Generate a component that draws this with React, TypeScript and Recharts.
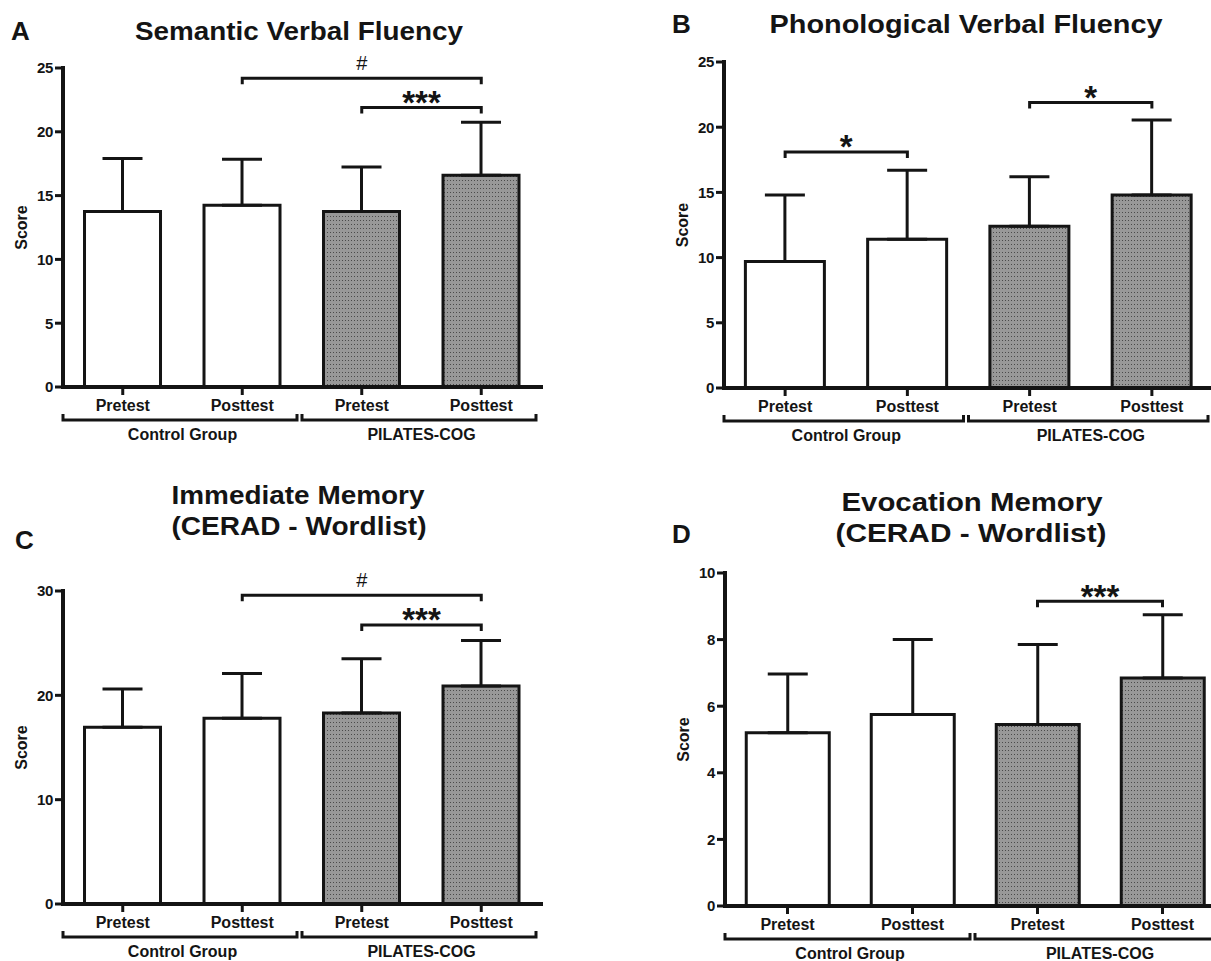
import React from "react";
import {
  ComposedChart,
  Bar,
  Cell,
  ErrorBar,
  XAxis,
  YAxis,
  ReferenceLine,
} from "recharts";

const FONT = "'Liberation Sans', Arial, sans-serif";
const INK = "#141414";
const Y_W = 50;

// shared categories
const categoryKeys = ["ctrlPre", "ctrlPost", "pilPre", "pilPost"];
const categoryLabels = ["Pretest", "Posttest", "Pretest", "Posttest"];
const groupLabels = ["Control Group", "PILATES-COG"];

// A - semantic verbal fluency
const semanticMean = [13.75, 14.25, 13.75, 16.6];
const semanticSd = [4.15, 3.6, 3.5, 4.15];
const semanticTicks = [0, 5, 10, 15, 20, 25];
const semanticSig = [
  { from: "ctrlPost", to: "pilPost", y: 24.2, mark: "#" },
  { from: "pilPre", to: "pilPost", y: 21.9, mark: "***" },
];

// B - phonological verbal fluency
const phonoMean = [9.7, 11.4, 12.4, 14.8];
const phonoSd = [5.1, 5.3, 3.8, 5.75];
const phonoTicks = [0, 5, 10, 15, 20, 25];
const phonoSig = [
  { from: "ctrlPre", to: "ctrlPost", y: 18.1, mark: "*" },
  { from: "pilPre", to: "pilPost", y: 21.9, mark: "*" },
];

// C - immediate memory
const immediateMean = [16.95, 17.8, 18.3, 20.9];
const immediateSd = [3.65, 4.3, 5.2, 4.35];
const immediateTicks = [0, 10, 20, 30];
const immediateSig = [
  { from: "ctrlPost", to: "pilPost", y: 29.6, mark: "#" },
  { from: "pilPre", to: "pilPost", y: 26.75, mark: "***" },
];

// D - evocation memory
const evocationMean = [5.2, 5.75, 5.45, 6.85];
const evocationSd = [1.77, 2.25, 2.4, 1.9];
const evocationTicks = [0, 2, 4, 6, 8, 10];
const evocationSig = [{ from: "pilPre", to: "pilPost", y: 9.15, mark: "***" }];

type Sig = { from: string; to: string; y: number; mark: string };

function ValueTick(props: any) {
  const { x, y, payload } = props;
  return (
    <text
      x={x}
      y={y}
      dy={5.4}
      textAnchor="end"
      fontFamily={FONT}
      fontWeight="bold"
      fontSize={15}
      letterSpacing={-0.4}
      fill={INK}
    >
      {payload.value}
    </text>
  );
}

function GroupTick(props: any) {
  const { x, y, index, halfBand } = props;
  const first = index % 2 === 0;
  return (
    <g>
      <text
        x={x}
        y={y + 14}
        textAnchor="middle"
        fontFamily={FONT}
        fontWeight="bold"
        fontSize={16}
        fill={INK}
      >
        {categoryLabels[index]}
      </text>
      {first && (
        <g>
          <path
            d={`M${x - halfBand},${y + 17}V${y + 23}H${x + 3 * halfBand - 5}V${y + 17}`}
            fill="none"
            stroke={INK}
            strokeWidth={3}
          />
          <text
            x={x + halfBand}
            y={y + 43}
            textAnchor="middle"
            fontFamily={FONT}
            fontWeight="bold"
            fontSize={16}
            fill={INK}
          >
            {groupLabels[index / 2]}
          </text>
        </g>
      )}
    </g>
  );
}

function Bracket(props: any) {
  const { x1, y1, x2, mark } = props;
  const hash = mark === "#";
  return (
    <g>
      <path
        d={`M${x1},${y1 + 6}V${y1}H${x2}V${y1 + 6}`}
        fill="none"
        stroke={INK}
        strokeWidth={3}
      />
      <text
        x={(x1 + x2) / 2}
        y={hash ? y1 - 8 : y1 + 6.5}
        textAnchor="middle"
        fontFamily={FONT}
        fontWeight={hash ? "normal" : "bold"}
        fontSize={hash ? 20 : 33}
        fill={INK}
      >
        {mark}
      </text>
    </g>
  );
}

function ScoreLabel(props: any) {
  const vb = props.viewBox || {};
  const bx = vb.x + vb.width - 36;
  const cy = vb.y + vb.height / 2;
  return (
    <text
      x={bx}
      y={cy}
      transform={`rotate(-90 ${bx} ${cy})`}
      textAnchor="middle"
      fontFamily={FONT}
      fontWeight="bold"
      fontSize={16}
      fill={INK}
    >
      Score
    </text>
  );
}

type PanelProps = {
  left: number;
  top: number;
  width: number;
  height: number;
  margin: { top: number; right: number; bottom: number; left: number };
  gap: string;
  means: number[];
  sds: number[];
  ticks: number[];
  sig: Sig[];
};

function Panel(p: PanelProps) {
  const data = categoryKeys.map((key, i) => ({
    key,
    mean: p.means[i],
    err: [0, p.sds[i]],
  }));
  const plotWidth = p.width - p.margin.left - p.margin.right - Y_W;
  const halfBand = plotWidth / categoryKeys.length / 2;
  return (
    <div style={{ position: "absolute", left: p.left, top: p.top }}>
      <ComposedChart
        width={p.width}
        height={p.height}
        data={data}
        margin={p.margin}
        barCategoryGap={p.gap}
      >
        <XAxis
          dataKey="key"
          height={50}
          interval={0}
          tickSize={8}
          axisLine={{ stroke: INK, strokeWidth: 4, strokeLinecap: "square" }}
          tickLine={{ stroke: INK, strokeWidth: 3 }}
          tick={(t: any) => <GroupTick {...t} halfBand={halfBand} />}
        />
        <YAxis
          type="number"
          width={Y_W}
          domain={[p.ticks[0], p.ticks[p.ticks.length - 1]]}
          ticks={p.ticks}
          interval={0}
          tickSize={8}
          axisLine={{ stroke: INK, strokeWidth: 4, strokeLinecap: "square" }}
          tickLine={{ stroke: INK, strokeWidth: 3 }}
          tick={(t: any) => <ValueTick {...t} />}
          label={(l: any) => <ScoreLabel {...l} />}
        />
        <Bar dataKey="mean" isAnimationActive={false} stroke={INK} strokeWidth={3}>
          {data.map((d, i) => (
            <Cell key={d.key} fill={i < 2 ? "#ffffff" : "url(#dotFill)"} />
          ))}
          <ErrorBar
            dataKey="err"
            width={20}
            stroke={INK}
            strokeWidth={3}
            isAnimationActive={false}
          />
        </Bar>
        {p.sig.map((s, i) => (
          <ReferenceLine
            key={i}
            segment={[
              { x: s.from, y: s.y },
              { x: s.to, y: s.y },
            ]}
            ifOverflow="visible"
            shape={(r: any) => <Bracket {...r} mark={s.mark} />}
          />
        ))}
      </ComposedChart>
    </div>
  );
}

function Title(props: any) {
  const { x, y, len, children } = props;
  return (
    <text
      x={x}
      y={y}
      textAnchor="middle"
      fontFamily={FONT}
      fontWeight="bold"
      fontSize={25}
      fill={INK}
      textLength={len}
      lengthAdjust="spacingAndGlyphs"
    >
      {children}
    </text>
  );
}

function Letter(props: any) {
  return (
    <text
      x={props.x}
      y={props.y}
      fontFamily={FONT}
      fontWeight="bold"
      fontSize={26}
      fill={INK}
    >
      {props.children}
    </text>
  );
}

export default function App() {
  return (
    <div
      style={{
        position: "absolute",
        left: 0,
        top: 0,
        width: 1211,
        height: 961,
        overflow: "hidden",
        background: "#fff",
      }}
    >
      <svg
        width={1211}
        height={961}
        style={{ position: "absolute", left: 0, top: 0, pointerEvents: "none" }}
      >
        <defs>
          <pattern id="dotFill" width={3} height={4} patternUnits="userSpaceOnUse">
            <rect width={3} height={4} fill="#989898" />
            <rect width={1} height={1} fill="#4a4a4a" />
          </pattern>
        </defs>
        <Letter x={11} y={40}>A</Letter>
        <Title x={299} y={40} len={328}>Semantic Verbal Fluency</Title>
        <Letter x={672} y={33}>B</Letter>
        <Title x={966} y={33} len={393}>Phonological Verbal Fluency</Title>
        <Letter x={15} y={549}>C</Letter>
        <Title x={298} y={504} len={253}>Immediate Memory</Title>
        <Title x={299} y={535} len={255}>(CERAD - Wordlist)</Title>
        <Letter x={672} y={543}>D</Letter>
        <Title x={972} y={511} len={261}>Evocation Memory</Title>
        <Title x={971} y={542} len={271}>(CERAD - Wordlist)</Title>
      </svg>
      <Panel
        left={0}
        top={0}
        width={600}
        height={470}
        margin={{ top: 68, right: 59, bottom: 33, left: 13 }}
        gap="18%"
        means={semanticMean}
        sds={semanticSd}
        ticks={semanticTicks}
        sig={semanticSig}
      />
      <Panel
        left={600}
        top={0}
        width={620}
        height={470}
        margin={{ top: 62, right: 7, bottom: 32, left: 74 }}
        gap="17.5%"
        means={phonoMean}
        sds={phonoSd}
        ticks={phonoTicks}
        sig={phonoSig}
      />
      <Panel
        left={0}
        top={470}
        width={600}
        height={491}
        margin={{ top: 121, right: 59, bottom: 7, left: 13 }}
        gap="18%"
        means={immediateMean}
        sds={immediateSd}
        ticks={immediateTicks}
        sig={immediateSig}
      />
      <Panel
        left={600}
        top={470}
        width={630}
        height={491}
        margin={{ top: 103, right: 5, bottom: 5, left: 75 }}
        gap="17%"
        means={evocationMean}
        sds={evocationSd}
        ticks={evocationTicks}
        sig={evocationSig}
      />
    </div>
  );
}
